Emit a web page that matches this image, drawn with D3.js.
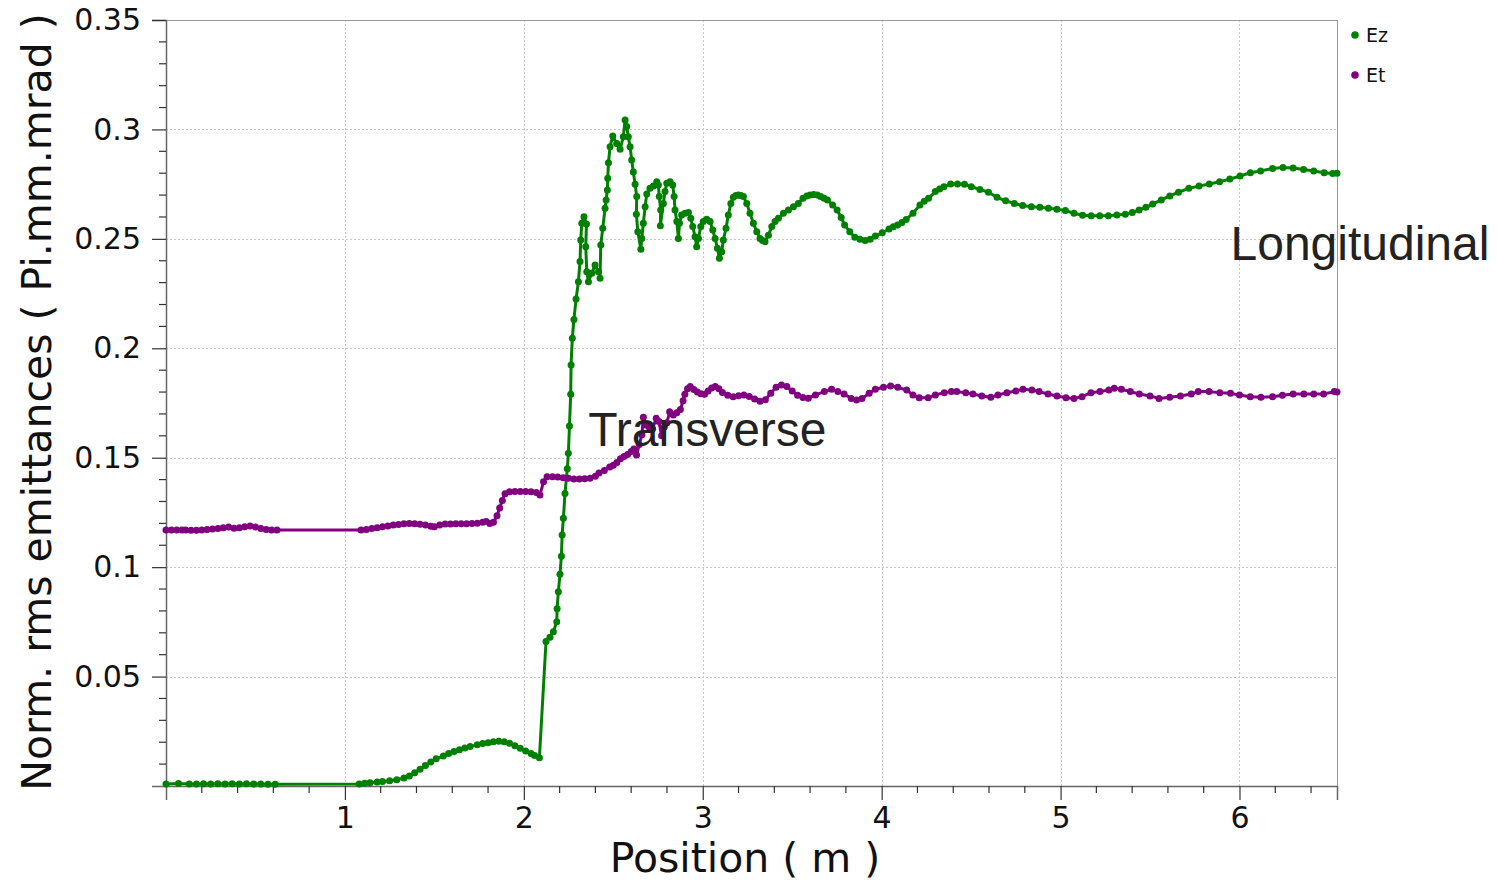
<!DOCTYPE html>
<html>
<head>
<meta charset="utf-8">
<script src="https://cdn.jsdelivr.net/npm/d3@7"></script>
<style>
  html, body { margin: 0; padding: 0; background: #fff; }
  svg { display: block; }
</style>
</head>
<body>
<svg id="chart" width="1497" height="882"></svg>
<script>
// Longitudinal emittance (Ez) along the beamline: [position m, emittance]
const ezPoints = [
  [0,0.0009],[0.07,0.0011],[0.13,0.0009],[0.17,0.0009],[0.21,0.0010],[0.25,0.0009],[0.29,0.0010],[0.33,0.0009],
  [0.37,0.0010],[0.41,0.0009],[0.45,0.0010],[0.49,0.0009],[0.53,0.0009],[0.57,0.0008],[0.61,0.0008],
  [1.08,0.0009],[1.11,0.0012],[1.14,0.0015],[1.18,0.0018],[1.21,0.0020],[1.25,0.0024],[1.29,0.0029],[1.33,0.0036],
  [1.36,0.0046],[1.39,0.0060],[1.42,0.0077],[1.45,0.0094],[1.48,0.0110],[1.51,0.0124],[1.55,0.0137],[1.58,0.0148],
  [1.61,0.0158],[1.64,0.0166],[1.67,0.0174],[1.70,0.0181],[1.74,0.0188],[1.77,0.0194],[1.80,0.0198],[1.83,0.0202],
  [1.86,0.0204],[1.89,0.0202],[1.92,0.0195],[1.95,0.0184],[1.98,0.0172],[2.01,0.0160],[2.04,0.0148],[2.06,0.0139],
  [2.087,0.0129],
  [2.124,0.066],[2.146,0.068],[2.165,0.0705],[2.184,0.075],[2.186,0.081],[2.193,0.0888],[2.202,0.0967],[2.210,0.105],
  [2.214,0.1147],[2.221,0.1223],[2.230,0.1337],[2.243,0.145],[2.249,0.152],[2.255,0.1645],[2.262,0.179],[2.264,0.1924],
  [2.271,0.2046],[2.280,0.2132],[2.292,0.2225],[2.305,0.2304],[2.314,0.2396],[2.318,0.2495],[2.324,0.2571],[2.336,0.2601],
  [2.350,0.2568],[2.346,0.2464],[2.352,0.235],[2.361,0.2304],[2.380,0.2343],[2.398,0.238],[2.417,0.235],[2.426,0.232],
  [2.430,0.2472],[2.441,0.2548],[2.454,0.264],[2.460,0.2678],[2.467,0.2723],[2.469,0.2777],[2.473,0.2848],[2.482,0.2921],
  [2.497,0.297],[2.519,0.2936],[2.538,0.2909],[2.556,0.2967],[2.566,0.3043],[2.575,0.3013],[2.584,0.2967],[2.594,0.2921],
  [2.603,0.2860],[2.612,0.2805],[2.622,0.2750],[2.631,0.2693],[2.629,0.2613],[2.637,0.2533],[2.654,0.2452],[2.659,0.2502],
  [2.668,0.2571],[2.678,0.2647],[2.687,0.2705],[2.705,0.2731],[2.724,0.2742],[2.743,0.2761],[2.752,0.2746],[2.757,0.2693],
  [2.765,0.2632],[2.763,0.2560],[2.780,0.2662],[2.789,0.2716],[2.799,0.2754],[2.817,0.2761],[2.832,0.2746],[2.840,0.2693],
  [2.845,0.2632],[2.855,0.2579],[2.864,0.2502],[2.870,0.2571],[2.882,0.2609],[2.901,0.2617],[2.920,0.2620],[2.933,0.2594],
  [2.944,0.2556],[2.957,0.2510],[2.966,0.2464],[2.976,0.2502],[2.989,0.2556],[3.003,0.2579],[3.022,0.2590],[3.041,0.2579],
  [3.056,0.2540],[3.069,0.2502],[3.082,0.2457],[3.093,0.2411],[3.106,0.2441],[3.115,0.2495],[3.130,0.2548],[3.143,0.2609],
  [3.157,0.2662],[3.171,0.2690],[3.185,0.2698],[3.199,0.2700],[3.213,0.2698],[3.227,0.2693],[3.246,0.2662],[3.264,0.2617],
  [3.283,0.2571],[3.302,0.2533],[3.320,0.2502],[3.334,0.2492],[3.348,0.2487],[3.367,0.2517],[3.386,0.2556],[3.404,0.2579],
  [3.423,0.2594],[3.451,0.2617],[3.479,0.2632],[3.507,0.2647],[3.534,0.2662],[3.560,0.2685],[3.582,0.2696],[3.600,0.2700],
  [3.620,0.2703],[3.640,0.2700],[3.659,0.2693],[3.678,0.2686],[3.697,0.2678],[3.726,0.2655],[3.751,0.2632],[3.774,0.2598],
  [3.793,0.2563],[3.822,0.2533],[3.850,0.2507],[3.879,0.2498],[3.908,0.2492],[3.936,0.2498],[3.965,0.2513],[4.003,0.2528],
  [4.041,0.2545],[4.065,0.2555],[4.089,0.2563],[4.113,0.2575],[4.137,0.2589],[4.175,0.2617],[4.214,0.2655],[4.238,0.2672],
  [4.262,0.2685],[4.300,0.2716],[4.324,0.2728],[4.348,0.2738],[4.386,0.2751],[4.424,0.2751],[4.463,0.2749],[4.501,0.2738],
  [4.549,0.2726],[4.597,0.2713],[4.645,0.2690],[4.693,0.2674],[4.741,0.2662],[4.788,0.2652],[4.837,0.2647],[4.884,0.2644],
  [4.932,0.2640],[4.980,0.2635],[5.027,0.2629],[5.075,0.2617],[5.123,0.2608],[5.171,0.2606],[5.219,0.2606],[5.267,0.2606],
  [5.315,0.2609],[5.362,0.2613],[5.401,0.2621],[5.439,0.2632],[5.477,0.2644],[5.515,0.2659],[5.563,0.2678],[5.611,0.2696],
  [5.659,0.2713],[5.717,0.2731],[5.774,0.2741],[5.831,0.2751],[5.889,0.2761],[5.946,0.2773],[6.003,0.2787],[6.061,0.2802],
  [6.118,0.2810],[6.185,0.2822],[6.243,0.2826],[6.300,0.2824],[6.358,0.2817],[6.415,0.2810],[6.473,0.2802],[6.521,0.2799],
  [6.545,0.2800]
];

// Transverse emittance (Et) along the beamline: [position m, emittance]
const etPoints = [
  [0,0.1170],[0.03,0.1170],[0.06,0.1170],[0.09,0.1170],[0.11,0.1170],[0.14,0.1169],[0.17,0.1168],[0.20,0.1170],
  [0.23,0.1172],[0.26,0.1174],[0.29,0.1177],[0.32,0.1180],[0.35,0.1183],[0.38,0.1178],[0.41,0.1180],[0.44,0.1184],
  [0.47,0.1188],[0.50,0.1183],[0.53,0.1176],[0.56,0.1172],[0.59,0.1170],[0.62,0.1170],
  [1.09,0.1170],[1.12,0.1172],[1.15,0.1176],[1.18,0.1180],[1.21,0.1184],[1.24,0.1188],[1.27,0.1192],[1.30,0.1195],
  [1.33,0.1198],[1.36,0.1199],[1.39,0.1198],[1.42,0.1196],[1.45,0.1192],[1.48,0.1187],[1.50,0.1185],[1.53,0.1192],
  [1.56,0.1197],[1.59,0.1197],[1.62,0.1198],[1.65,0.1198],[1.68,0.1198],[1.71,0.1199],[1.74,0.1200],[1.77,0.1205],
  [1.79,0.1208],[1.81,0.1199],[1.83,0.1205],[1.85,0.1235],[1.865,0.1270],[1.88,0.1305],[1.895,0.1335],[1.92,0.1345],
  [1.95,0.1346],[1.98,0.1346],[2.01,0.1346],[2.04,0.1345],[2.07,0.1341],[2.09,0.1330],[2.11,0.1390],[2.13,0.1413],
  [2.16,0.1413],[2.19,0.1412],[2.22,0.1409],[2.25,0.1406],[2.28,0.1403],[2.31,0.1403],[2.34,0.1404],[2.37,0.1406],
  [2.40,0.1415],[2.42,0.1430],[2.45,0.1442],[2.48,0.1458],[2.50,0.1466],[2.52,0.1478],[2.54,0.1495],[2.56,0.1505],
  [2.58,0.1515],[2.60,0.1528],[2.615,0.1540],[2.63,0.1512],[2.645,0.1560],[2.66,0.1605],[2.668,0.1685],[2.68,0.1650],
  [2.70,0.1640],[2.72,0.1632],[2.74,0.1680],[2.755,0.1665],[2.77,0.1600],[2.785,0.1640],[2.80,0.1660],[2.815,0.1710],
  [2.835,0.1695],[2.855,0.1705],[2.875,0.1720],[2.89,0.1760],[2.90,0.1790],[2.915,0.1815],[2.93,0.1825],[2.95,0.1812],
  [2.97,0.1800],[2.99,0.1792],[3.01,0.1790],[3.03,0.1805],[3.05,0.1818],[3.07,0.1825],[3.09,0.1815],[3.11,0.1798],
  [3.14,0.1785],[3.17,0.1779],[3.20,0.1783],[3.23,0.1787],[3.26,0.1780],[3.29,0.1768],[3.32,0.1758],[3.35,0.1765],
  [3.38,0.1795],[3.41,0.1822],[3.44,0.1832],[3.47,0.1825],[3.50,0.1805],[3.53,0.1785],[3.56,0.1775],[3.59,0.1772],
  [3.63,0.1787],[3.68,0.1802],[3.72,0.1813],[3.755,0.1802],[3.79,0.1791],[3.83,0.1771],[3.86,0.1764],[3.89,0.1771],
  [3.93,0.1794],[3.965,0.1813],[4.01,0.1822],[4.05,0.1828],[4.09,0.1822],[4.14,0.1809],[4.175,0.1787],[4.21,0.1774],
  [4.26,0.1774],[4.30,0.1787],[4.35,0.1797],[4.39,0.1802],[4.42,0.1802],[4.47,0.1797],[4.51,0.1791],[4.56,0.1782],
  [4.61,0.1776],[4.65,0.1787],[4.70,0.1797],[4.75,0.1805],[4.79,0.1813],[4.84,0.1809],[4.88,0.1802],[4.93,0.1791],
  [4.98,0.1782],[5.03,0.1774],[5.075,0.1771],[5.12,0.1779],[5.17,0.1797],[5.22,0.1802],[5.27,0.1809],[5.30,0.1817],
  [5.34,0.1813],[5.39,0.1802],[5.44,0.1791],[5.50,0.1782],[5.55,0.1771],[5.61,0.1776],[5.67,0.1782],[5.73,0.1791],
  [5.77,0.1802],[5.83,0.1802],[5.89,0.1797],[5.95,0.1794],[6.00,0.1787],[6.06,0.1779],[6.12,0.1776],[6.185,0.1779],
  [6.24,0.1785],[6.30,0.1791],[6.36,0.1791],[6.415,0.1791],[6.47,0.1791],[6.53,0.1802],[6.545,0.1800]
];

const xTickValues = [1, 2, 3, 4, 5, 6];
const yTickValues = [0.05, 0.1, 0.15, 0.2, 0.25, 0.3, 0.35];
const seriesNames = ["Ez", "Et"];
const seriesColors = ["#008000", "#800080"];
const xTitle = "Position ( m )";
const yTitle = "Norm. rms emittances ( Pi.mm.mrad )";
const annotations = [
  { text: "Longitudinal", x: 5.95, y: 0.2405 },
  { text: "Transverse", x: 2.36, y: 0.1555 }
];

const W = 1497, H = 882;
const margin = { left: 166, top: 20, right: 160, bottom: 96 };
const innerW = W - margin.left - margin.right;
const innerH = H - margin.top - margin.bottom;

const svg = d3.select("#chart");
const g = svg.append("g").attr("transform", `translate(${margin.left},${margin.top})`);

const x = d3.scaleLinear().domain([0, 6.545]).range([0, innerW]);
const y = d3.scaleLinear().domain([0, 0.35]).range([innerH, 0]);

// dotted grid at major ticks
const grid = g.append("g").attr("stroke", "#c8c8c8").attr("stroke-width", 1).attr("stroke-dasharray", "2,2");
grid.selectAll("line.gx").data(xTickValues).join("line")
  .attr("x1", d => Math.round(x(d)) + 0.5).attr("x2", d => Math.round(x(d)) + 0.5)
  .attr("y1", 0).attr("y2", innerH);
grid.selectAll("line.gy").data(yTickValues).join("line")
  .attr("x1", 0).attr("x2", innerW)
  .attr("y1", d => Math.round(y(d)) + 0.5).attr("y2", d => Math.round(y(d)) + 0.5);

// frame
g.append("rect").attr("x", 0.5).attr("y", 0.5).attr("width", innerW).attr("height", innerH)
  .attr("fill", "none").attr("stroke", "#9a9a9a").attr("stroke-width", 1);

// minor ticks
const xMinor = d3.range(0, 6.6, 0.2).filter(v => v <= 6.545 && Math.abs(v - Math.round(v)) > 1e-6);
const yMinor = d3.range(0, 0.351, 0.01).filter(v => Math.abs(v * 20 - Math.round(v * 20)) > 1e-6);

const xAxis = d3.axisBottom(x).tickValues(xTickValues).tickFormat(d3.format("d")).tickSize(14).tickPadding(7);
const yAxis = d3.axisLeft(y).tickValues(yTickValues).tickFormat(d => String(+d.toFixed(2))).tickSize(14).tickPadding(11);

const gx = g.append("g").attr("transform", `translate(0,${innerH})`).call(xAxis);
const gy = g.append("g").call(yAxis);
[gx, gy].forEach(a => {
  a.select(".domain").attr("stroke", "#666").attr("stroke-width", 1.5);
  a.selectAll(".tick line").attr("stroke", "#333").attr("stroke-width", 1.2);
  a.selectAll(".tick text").attr("fill", "#111").style("font-family", "DejaVu Sans").style("font-size", "30px");
});
gx.append("g").selectAll("line").data(xMinor).join("line")
  .attr("x1", d => x(d)).attr("x2", d => x(d)).attr("y1", 0).attr("y2", 7)
  .attr("stroke", "#333").attr("stroke-width", 1.2);
gy.append("g").selectAll("line").data(yMinor).join("line")
  .attr("y1", d => y(d)).attr("y2", d => y(d)).attr("x1", 0).attr("x2", -7)
  .attr("stroke", "#333").attr("stroke-width", 1.2);

// axis titles
svg.append("text").attr("x", 745).attr("y", 872).attr("text-anchor", "middle")
  .style("font-family", "DejaVu Sans").style("font-size", "41px").attr("fill", "#111").text(xTitle);
svg.append("text").attr("transform", "translate(51,402) rotate(-90)").attr("text-anchor", "middle")
  .style("font-family", "DejaVu Sans").style("font-size", "41px").attr("fill", "#111").text(yTitle);

// series
const line = d3.line().x(d => x(d[0])).y(d => y(d[1]));
const series = [ezPoints, etPoints];
series.forEach((pts, i) => {
  const s = g.append("g");
  s.append("path").datum(pts).attr("d", line).attr("fill", "none")
    .attr("stroke", seriesColors[i]).attr("stroke-width", 3).attr("stroke-linejoin", "round");
  s.selectAll("circle").data(pts).join("circle")
    .attr("cx", d => x(d[0])).attr("cy", d => y(d[1])).attr("r", 3.5).attr("fill", seriesColors[i]);
});

// annotations
annotations.forEach(a => {
  svg.append("text").attr("x", margin.left + x(a.x)).attr("y", margin.top + y(a.y))
    .style("font-family", "Liberation Sans, Arial").style("font-size", "48px").attr("fill", "#222").text(a.text);
});

// legend
const legend = svg.append("g").attr("transform", "translate(1355,35)");
seriesNames.forEach((n, i) => {
  const row = legend.append("g").attr("transform", `translate(0,${i * 40})`);
  row.append("circle").attr("r", 3.8).attr("fill", seriesColors[i]);
  row.append("text").attr("x", 11).attr("y", 7).style("font-family", "DejaVu Sans").style("font-size", "19px")
    .attr("fill", "#111").text(n);
});
</script>
</body>
</html>
